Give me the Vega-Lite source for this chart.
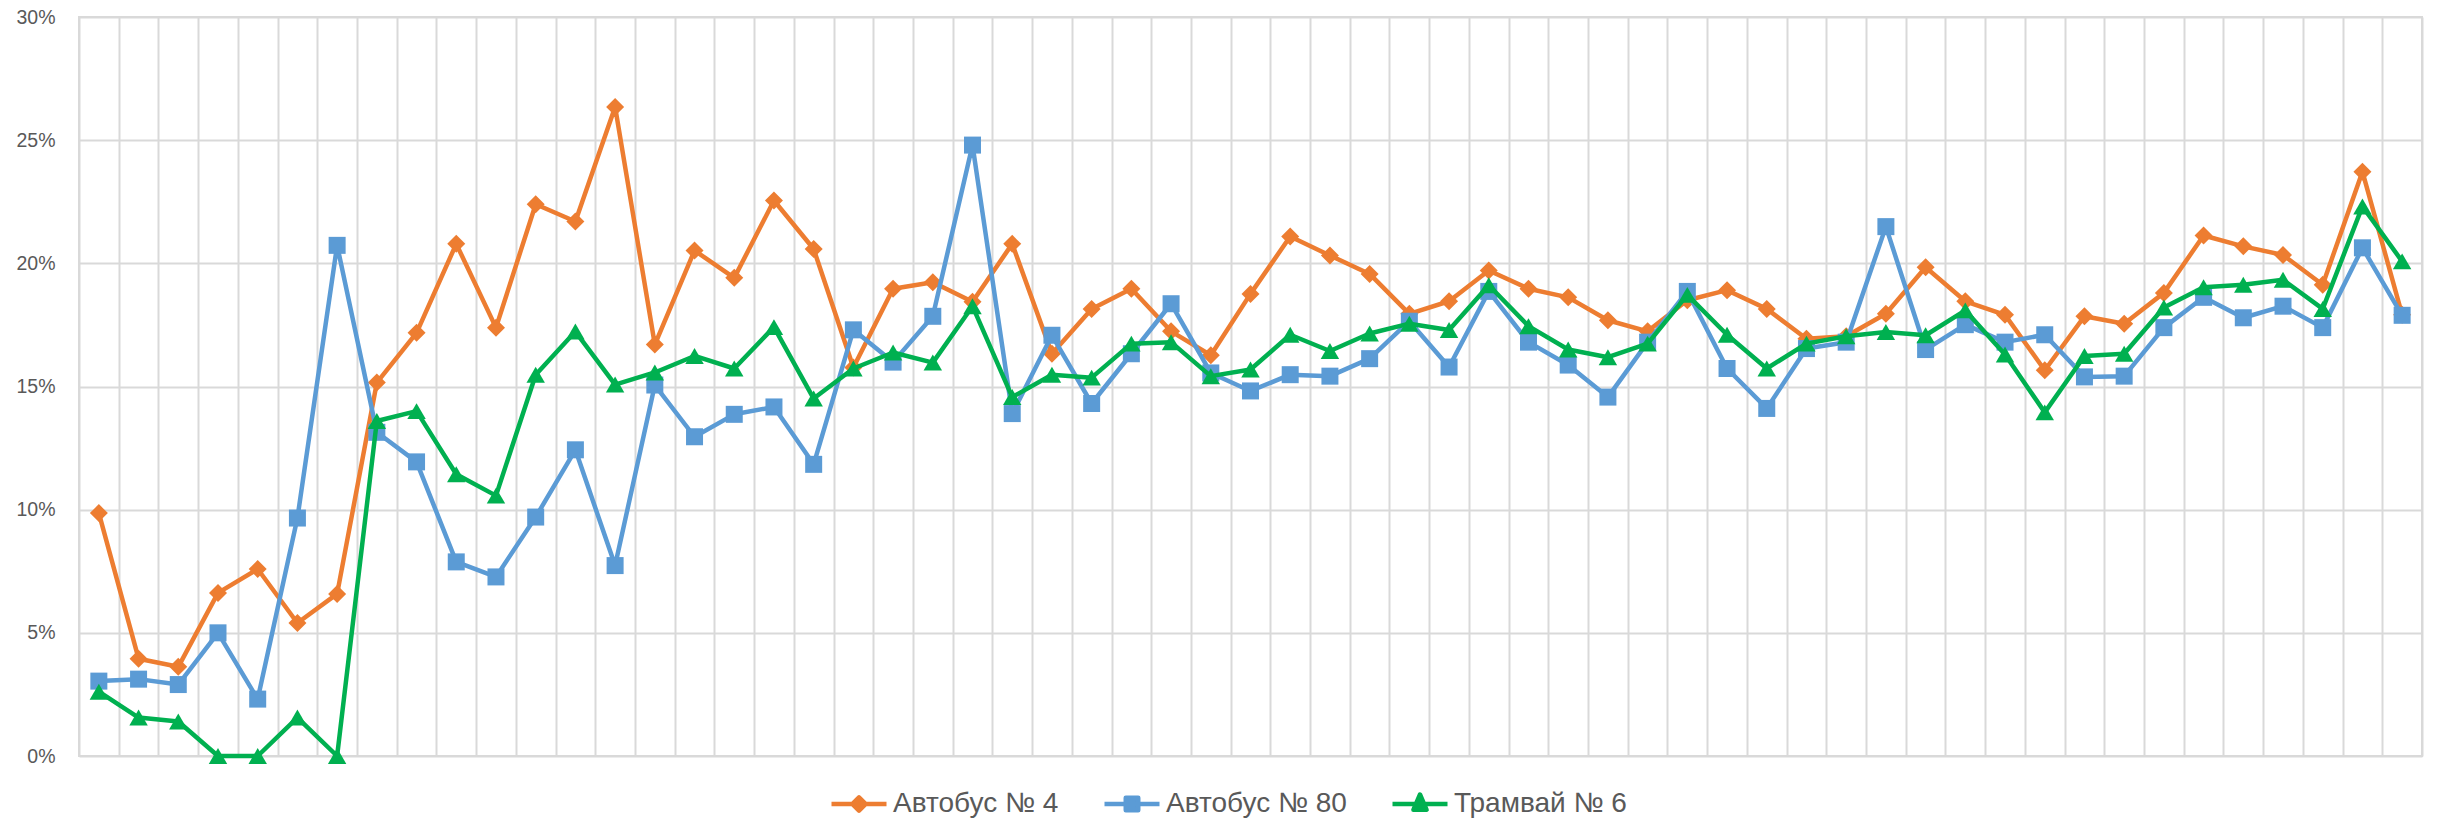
{
  "$schema": "https://vega.github.io/schema/vega-lite/v6.json",
  "width": 2343,
  "height": 739,
  "autosize": {"type": "none"},
  "padding": {"left": 79, "top": 17, "right": 18, "bottom": 66},
  "background": "white",
  "config": {"view": {"stroke": "#d9d9d9", "strokeWidth": 2}, "font": "Liberation Sans"},
  "datasets": {
    "rows": [
      {"i":1,"s":"Автобус № 4","v":0.0986},{"i":2,"s":"Автобус № 4","v":0.0395},{"i":3,"s":"Автобус № 4","v":0.0362},{"i":4,"s":"Автобус № 4","v":0.0662},{"i":5,"s":"Автобус № 4","v":0.0759},{"i":6,"s":"Автобус № 4","v":0.054},{"i":7,"s":"Автобус № 4","v":0.0658},{"i":8,"s":"Автобус № 4","v":0.1516},{"i":9,"s":"Автобус № 4","v":0.1718},{"i":10,"s":"Автобус № 4","v":0.2079},
      {"i":11,"s":"Автобус № 4","v":0.1739},{"i":12,"s":"Автобус № 4","v":0.224},{"i":13,"s":"Автобус № 4","v":0.217},{"i":14,"s":"Автобус № 4","v":0.2635},{"i":15,"s":"Автобус № 4","v":0.167},{"i":16,"s":"Автобус № 4","v":0.2052},{"i":17,"s":"Автобус № 4","v":0.1941},{"i":18,"s":"Автобус № 4","v":0.2255},{"i":19,"s":"Автобус № 4","v":0.2058},{"i":20,"s":"Автобус № 4","v":0.1577},
      {"i":21,"s":"Автобус № 4","v":0.1897},{"i":22,"s":"Автобус № 4","v":0.1923},{"i":23,"s":"Автобус № 4","v":0.1844},{"i":24,"s":"Автобус № 4","v":0.2079},{"i":25,"s":"Автобус № 4","v":0.1633},{"i":26,"s":"Автобус № 4","v":0.1815},{"i":27,"s":"Автобус № 4","v":0.1897},{"i":28,"s":"Автобус № 4","v":0.1724},{"i":29,"s":"Автобус № 4","v":0.1627},{"i":30,"s":"Автобус № 4","v":0.1876},
      {"i":31,"s":"Автобус № 4","v":0.2109},{"i":32,"s":"Автобус № 4","v":0.2032},{"i":33,"s":"Автобус № 4","v":0.1957},{"i":34,"s":"Автобус № 4","v":0.1795},{"i":35,"s":"Автобус № 4","v":0.1846},{"i":36,"s":"Автобус № 4","v":0.1971},{"i":37,"s":"Автобус № 4","v":0.1897},{"i":38,"s":"Автобус № 4","v":0.1862},{"i":39,"s":"Автобус № 4","v":0.1769},{"i":40,"s":"Автобус № 4","v":0.1724},
      {"i":41,"s":"Автобус № 4","v":0.185},{"i":42,"s":"Автобус № 4","v":0.1891},{"i":43,"s":"Автобус № 4","v":0.1815},{"i":44,"s":"Автобус № 4","v":0.1694},{"i":45,"s":"Автобус № 4","v":0.1704},{"i":46,"s":"Автобус № 4","v":0.1795},{"i":47,"s":"Автобус № 4","v":0.1984},{"i":48,"s":"Автобус № 4","v":0.1846},{"i":49,"s":"Автобус № 4","v":0.1791},{"i":50,"s":"Автобус № 4","v":0.1566},
      {"i":51,"s":"Автобус № 4","v":0.1785},{"i":52,"s":"Автобус № 4","v":0.1755},{"i":53,"s":"Автобус № 4","v":0.188},{"i":54,"s":"Автобус № 4","v":0.2113},{"i":55,"s":"Автобус № 4","v":0.2069},{"i":56,"s":"Автобус № 4","v":0.2034},{"i":57,"s":"Автобус № 4","v":0.1913},{"i":58,"s":"Автобус № 4","v":0.2372},{"i":59,"s":"Автобус № 4","v":0.1791},

      {"i":1,"s":"Автобус № 80","v":0.0304},{"i":2,"s":"Автобус № 80","v":0.0312},{"i":3,"s":"Автобус № 80","v":0.029},{"i":4,"s":"Автобус № 80","v":0.05},{"i":5,"s":"Автобус № 80","v":0.0231},{"i":6,"s":"Автобус № 80","v":0.0966},{"i":7,"s":"Автобус № 80","v":0.2073},{"i":8,"s":"Автобус № 80","v":0.1314},{"i":9,"s":"Автобус № 80","v":0.1194},{"i":10,"s":"Автобус № 80","v":0.0788},
      {"i":11,"s":"Автобус № 80","v":0.0727},{"i":12,"s":"Автобус № 80","v":0.097},{"i":13,"s":"Автобус № 80","v":0.1243},{"i":14,"s":"Автобус № 80","v":0.0773},{"i":15,"s":"Автобус № 80","v":0.1506},{"i":16,"s":"Автобус № 80","v":0.1296},{"i":17,"s":"Автобус № 80","v":0.1387},{"i":18,"s":"Автобус № 80","v":0.1417},{"i":19,"s":"Автобус № 80","v":0.1184},{"i":20,"s":"Автобус № 80","v":0.173},
      {"i":21,"s":"Автобус № 80","v":0.1599},{"i":22,"s":"Автобус № 80","v":0.1785},{"i":23,"s":"Автобус № 80","v":0.248},{"i":24,"s":"Автобус № 80","v":0.139},{"i":25,"s":"Автобус № 80","v":0.1708},{"i":26,"s":"Автобус № 80","v":0.1431},{"i":27,"s":"Автобус № 80","v":0.1633},{"i":28,"s":"Автобус № 80","v":0.1836},{"i":29,"s":"Автобус № 80","v":0.1555},{"i":30,"s":"Автобус № 80","v":0.1482},
      {"i":31,"s":"Автобус № 80","v":0.1548},{"i":32,"s":"Автобус № 80","v":0.1542},{"i":33,"s":"Автобус № 80","v":0.1613},{"i":34,"s":"Автобус № 80","v":0.1765},{"i":35,"s":"Автобус № 80","v":0.1579},{"i":36,"s":"Автобус № 80","v":0.1886},{"i":37,"s":"Автобус № 80","v":0.168},{"i":38,"s":"Автобус № 80","v":0.1587},{"i":39,"s":"Автобус № 80","v":0.1457},{"i":40,"s":"Автобус № 80","v":0.168},
      {"i":41,"s":"Автобус № 80","v":0.1886},{"i":42,"s":"Автобус № 80","v":0.1573},{"i":43,"s":"Автобус № 80","v":0.1411},{"i":44,"s":"Автобус № 80","v":0.1654},{"i":45,"s":"Автобус № 80","v":0.168},{"i":46,"s":"Автобус № 80","v":0.2149},{"i":47,"s":"Автобус № 80","v":0.165},{"i":48,"s":"Автобус № 80","v":0.1751},{"i":49,"s":"Автобус № 80","v":0.168},{"i":50,"s":"Автобус № 80","v":0.171},
      {"i":51,"s":"Автобус № 80","v":0.1539},{"i":52,"s":"Автобус № 80","v":0.1542},{"i":53,"s":"Автобус № 80","v":0.1739},{"i":54,"s":"Автобус № 80","v":0.1862},{"i":55,"s":"Автобус № 80","v":0.1779},{"i":56,"s":"Автобус № 80","v":0.1826},{"i":57,"s":"Автобус № 80","v":0.1739},{"i":58,"s":"Автобус № 80","v":0.2063},{"i":59,"s":"Автобус № 80","v":0.1789},

      {"i":1,"s":"Трамвай № 6","v":0.0261},{"i":2,"s":"Трамвай № 6","v":0.0156},{"i":3,"s":"Трамвай № 6","v":0.014},{"i":4,"s":"Трамвай № 6","v":0.0},{"i":5,"s":"Трамвай № 6","v":0.0},{"i":6,"s":"Трамвай № 6","v":0.0156},{"i":7,"s":"Трамвай № 6","v":0.0},{"i":8,"s":"Трамвай № 6","v":0.136},{"i":9,"s":"Трамвай № 6","v":0.14},{"i":10,"s":"Трамвай № 6","v":0.1144},
      {"i":11,"s":"Трамвай № 6","v":0.1057},{"i":12,"s":"Трамвай № 6","v":0.1548},{"i":13,"s":"Трамвай № 6","v":0.1723},{"i":14,"s":"Трамвай № 6","v":0.1508},{"i":15,"s":"Трамвай № 6","v":0.1557},{"i":16,"s":"Трамвай № 6","v":0.1624},{"i":17,"s":"Трамвай № 6","v":0.1573},{"i":18,"s":"Трамвай № 6","v":0.1741},{"i":19,"s":"Трамвай № 6","v":0.1451},{"i":20,"s":"Трамвай № 6","v":0.1573},
      {"i":21,"s":"Трамвай № 6","v":0.1638},{"i":22,"s":"Трамвай № 6","v":0.1597},{"i":23,"s":"Трамвай № 6","v":0.1826},{"i":24,"s":"Трамвай № 6","v":0.1457},{"i":25,"s":"Трамвай № 6","v":0.1548},{"i":26,"s":"Трамвай № 6","v":0.1536},{"i":27,"s":"Трамвай № 6","v":0.1674},{"i":28,"s":"Трамвай № 6","v":0.168},{"i":29,"s":"Трамвай № 6","v":0.1542},{"i":30,"s":"Трамвай № 6","v":0.1569},
      {"i":31,"s":"Трамвай № 6","v":0.171},{"i":32,"s":"Трамвай № 6","v":0.1644},{"i":33,"s":"Трамвай № 6","v":0.1715},{"i":34,"s":"Трамвай № 6","v":0.1755},{"i":35,"s":"Трамвай № 6","v":0.1729},{"i":36,"s":"Трамвай № 6","v":0.1911},{"i":37,"s":"Трамвай № 6","v":0.1745},{"i":38,"s":"Трамвай № 6","v":0.165},{"i":39,"s":"Трамвай № 6","v":0.1619},{"i":40,"s":"Трамвай № 6","v":0.1674},
      {"i":41,"s":"Трамвай № 6","v":0.1872},{"i":42,"s":"Трамвай № 6","v":0.171},{"i":43,"s":"Трамвай № 6","v":0.1573},{"i":44,"s":"Трамвай № 6","v":0.1674},{"i":45,"s":"Трамвай № 6","v":0.1704},{"i":46,"s":"Трамвай № 6","v":0.1721},{"i":47,"s":"Трамвай № 6","v":0.1708},{"i":48,"s":"Трамвай № 6","v":0.1809},{"i":49,"s":"Трамвай № 6","v":0.163},{"i":50,"s":"Трамвай № 6","v":0.1395},
      {"i":51,"s":"Трамвай № 6","v":0.1624},{"i":52,"s":"Трамвай № 6","v":0.1633},{"i":53,"s":"Трамвай № 6","v":0.1821},{"i":54,"s":"Трамвай № 6","v":0.1903},{"i":55,"s":"Трамвай № 6","v":0.1913},{"i":56,"s":"Трамвай № 6","v":0.1933},{"i":57,"s":"Трамвай № 6","v":0.1815},{"i":58,"s":"Трамвай № 6","v":0.2231},{"i":59,"s":"Трамвай № 6","v":0.2008}
    ]
  },
  "data": {"name": "rows"},
  "encoding": {
    "x": {
      "field": "i", "type": "ordinal",
      "scale": {"paddingInner": 0, "paddingOuter": 0},
      "axis": {"title": null, "labels": false, "ticks": false, "domain": false, "grid": true, "tickBand": "extent", "gridColor": "#d9d9d9", "gridWidth": 2}
    },
    "y": {
      "field": "v", "type": "quantitative",
      "scale": {"domain": [0, 0.3], "nice": false, "zero": true},
      "axis": {"title": null, "values": [0, 0.05, 0.1, 0.15, 0.2, 0.25, 0.3], "format": ".0%", "domain": false, "ticks": false, "labelPadding": 24, "labelFontSize": 19.5, "labelColor": "#595959", "labelFont": "Liberation Sans", "gridColor": "#d9d9d9", "gridWidth": 2}
    },
    "color": {
      "field": "s", "type": "nominal",
      "scale": {"domain": ["Автобус № 4", "Автобус № 80", "Трамвай № 6"], "range": ["#ED7D31", "#5B9BD5", "#00B050"]},
      "legend": {
        "title": null, "orient": "none", "direction": "horizontal", "legendX": 750, "legendY": 757,
        "symbolSize": 3025, "symbolStrokeWidth": 4.5, "labelFontSize": 28, "labelFont": "Liberation Sans", "labelColor": "#595959", "labelOffset": 4, "labelLimit": 500, "columnPadding": 43, "padding": 0,
        "encode": {
          "symbols": {
            "update": {
              "shape": {"signal": "datum.value === 'Автобус № 4' ? 'M-1,0H1M0,-0.245L0.245,0L0,0.245L-0.245,0Z' : datum.value === 'Автобус № 80' ? 'M-1,0H1M-0.227,-0.227H0.227V0.227H-0.227Z' : 'M-1,0H1M0,-0.345L0.24,0.21H-0.24Z'"},
              "fill": {"scale": "color", "field": "value"},
              "stroke": {"scale": "color", "field": "value"},
              "strokeJoin": {"value": "round"},
              "opacity": {"value": 1},
              "fillOpacity": {"value": 1},
              "strokeOpacity": {"value": 1}
            }
          }
        }
      }
    }
  },
  "layer": [
    {"transform": [{"filter": "datum.s === 'Автобус № 4'"}], "mark": {"type": "line", "strokeWidth": 4.5, "strokeJoin": "round", "strokeCap": "round"}},
    {"transform": [{"filter": "datum.s === 'Автобус № 4'"}], "mark": {"type": "point", "shape": "diamond", "filled": true, "size": 324, "opacity": 1}},
    {"transform": [{"filter": "datum.s === 'Автобус № 80'"}], "mark": {"type": "line", "strokeWidth": 4.5, "strokeJoin": "round", "strokeCap": "round"}},
    {"transform": [{"filter": "datum.s === 'Автобус № 80'"}], "mark": {"type": "point", "shape": "square", "filled": true, "size": 289, "opacity": 1}},
    {"transform": [{"filter": "datum.s === 'Трамвай № 6'"}], "mark": {"type": "line", "strokeWidth": 4.5, "strokeJoin": "round", "strokeCap": "round"}},
    {"transform": [{"filter": "datum.s === 'Трамвай № 6'"}], "mark": {"type": "point", "shape": "triangle-up", "filled": true, "size": 340, "opacity": 1}}
  ]
}
